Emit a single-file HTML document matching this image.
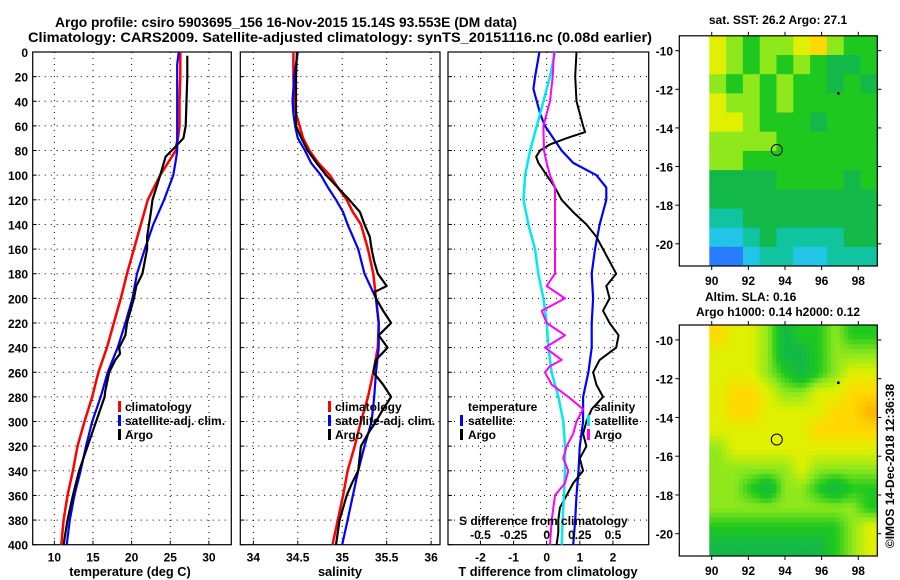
<!DOCTYPE html>
<html><head><meta charset="utf-8"><style>
body{margin:0;background:#fff}
svg{display:block;font-family:"Liberation Sans",sans-serif}
.t{font-weight:bold;font-size:13.8px}
.b{font-weight:bold;font-size:12px}
.a{font-weight:bold;font-size:12.8px}
</style></head><body>
<svg id="c" width="900" height="580" viewBox="0 0 900 580" xmlns="http://www.w3.org/2000/svg">
<text class="t" x="55" y="27" textLength="462" lengthAdjust="spacingAndGlyphs">Argo profile: csiro 5903695_156 16-Nov-2015 15.14S 93.553E (DM data)</text>
<text class="t" x="28" y="42" textLength="624" lengthAdjust="spacingAndGlyphs">Climatology: CARS2009. Satellite-adjusted climatology: synTS_20151116.nc (0.08d earlier)</text>
<g id="g"></g>
</svg>
<script>
const tDepth=[0,10,20,40,60,70,75,80,85,100,120,140,160,180,200,220,240,260,280,300,320,340,360,380,400];
const tClim=[26.3,26.3,26.3,26.2,26.2,26.0,25.8,25.7,25.2,23.7,22.1,21.2,20.3,19.4,18.6,17.7,16.8,15.7,14.9,13.9,13.0,12.4,11.7,11.2,10.9];
const tSat=[26.1,25.9,25.9,25.9,25.9,25.9,25.9,25.9,25.8,25.4,24.2,22.8,21.7,20.7,20.1,19.2,18.2,16.9,16.0,14.9,14.1,13.4,12.6,12.0,11.6];
const argoTDepth=[3,20,40,60,70,78,85,100,120,130,150,160,180,190,200,220,230,240,245,250,260,275,280,300,320,340,360,380,400];
const tArgo=[27.2,27.2,27.1,27.0,26.7,25.5,24.4,23.7,22.7,22.5,22.0,22.0,21.4,20.6,20.3,19.4,19.2,18.4,18.5,17.9,17.1,16.6,16.5,15.4,14.3,13.2,12.4,11.7,11.2];
const sDepth=[0,20,40,50,60,70,80,90,100,110,120,130,140,160,180,200,220,240,260,280,300,320,340,360,380,400];
const sClim=[34.45,34.45,34.46,34.48,34.52,34.56,34.63,34.73,34.86,34.95,35.05,35.12,35.21,35.29,35.35,35.38,35.41,35.40,35.35,35.29,35.21,35.14,35.06,35.01,34.95,34.89];
const sSat=[34.50,34.46,34.44,34.45,34.47,34.50,34.58,34.65,34.76,34.84,34.93,35.01,35.06,35.18,35.25,35.38,35.41,35.41,35.38,35.36,35.33,35.25,35.18,35.12,35.06,35.00];
const argoSDepth=[0,20,40,60,70,80,90,100,110,120,130,140,150,160,170,180,190,195,200,210,220,230,240,250,260,270,280,290,300,310,320,340,350,360,380,400];
const sArgo=[34.49,34.48,34.48,34.48,34.54,34.61,34.71,34.82,34.95,35.08,35.20,35.25,35.31,35.33,35.36,35.40,35.50,35.36,35.38,35.46,35.55,35.41,35.51,35.38,35.35,35.46,35.55,35.46,35.38,35.29,35.21,35.18,35.11,35.05,34.97,34.93];
const dDepth=[0,20,30,40,50,60,80,90,100,110,120,140,160,180,200,220,240,260,280,300,320,340,360,380,400];
const dTSat=[-0.22,-0.35,-0.4,-0.3,-0.2,-0.05,0.45,0.8,1.5,1.8,1.8,1.6,1.46,1.36,1.4,1.36,1.36,1.26,1.1,1.1,1.0,0.96,0.9,0.86,0.8];
const dArgoDepth=[0,20,40,50,60,65,70,75,80,85,90,100,110,120,130,140,150,160,170,180,190,200,210,220,230,240,250,260,270,280,290,300,310,320,330,340,350,360,370,380,390,400];
const dTArgo=[0.9,0.86,0.9,1.0,1.1,1.16,0.6,0.1,-0.2,-0.32,-0.25,0,0.25,0.45,0.8,1.2,1.5,1.7,1.9,2.1,1.8,1.9,1.7,1.9,2.17,2.1,1.6,1.4,1.5,1.7,1.36,1.2,1.1,1.2,1.0,1.1,0.8,0.6,0.4,0.35,0.35,0.3];
const sdDepth=[0,20,40,60,80,100,120,140,160,180,200,220,240,260,280,300,320,340,360,380,400];
const dSSat=[0.063,0.025,-0.025,-0.075,-0.125,-0.163,-0.175,-0.138,-0.088,-0.063,-0.025,0,0.013,0.038,0.088,0.125,0.138,0.138,0.13,0.12,0.113];
const sdArgoDepth=[0,20,40,60,80,90,100,110,120,140,160,180,190,200,210,220,230,240,250,255,260,270,280,290,300,310,320,330,340,350,360,380,400];
const dSArgo=[0.055,0.045,0.025,-0.025,-0.02,0,0.025,0.063,0.063,0.063,0.063,0.063,0,0.138,-0.038,0,0.138,-0.013,0.113,0.025,-0.013,0.038,0.163,0.275,0.225,0.2,0.15,0.125,0.163,0.138,0.063,0.038,0.025];
const depthTicks=[0,20,40,60,80,100,120,140,160,180,200,220,240,260,280,300,320,340,360,380,400];
const tTicks=[10,15,20,25,30], sTicks=[34,34.5,35,35.5,36], dTicks=[-2,-1,0,1,2], dSTickLabels=["-0.5","-0.25","0","0.25","0.5"];
const latTicks=[-10,-12,-14,-16,-18,-20], lonTicks=[90,92,94,96,98];
const sstGrid=[[6,5,4,5,5,6,7,5,4,4],[6,5,4,5,4,5,4,3,3,4],[5,4,5,4,5,4,4,3,4,3],[6,5,5,4,5,4,4,4,4,4],[6,6,5,4,4,4,3,4,4,4],[5,5,5,5,4,4,4,4,4,4],[5,5,4,4,4,4,4,4,4,4],[3,3,3,3,4,4,4,4,3,4],[3,3,3,3,3,3,3,3,3,3],[2,2,3,3,3,3,3,3,3,3],[1,1,2,3,2,2,2,2,3,3],[0,0,1,2,2,1,1,2,2,2]];
const slaGrid=[[7,6,6,5,3,4,4,5,4,4],[6,6,6,5,3,3,4,5,5,5],[6,6,6,5,4,3,4,5,6,6],[6,7,7,6,5,5,6,6,7,7],[6,7,7,6,6,6,6,7,7,8],[6,6,6,6,6,6,7,7,7,7],[5,6,6,6,6,6,6,6,6,6],[5,5,5,5,5,6,5,5,5,5],[5,5,4,3,5,5,4,3,4,4],[5,5,5,5,5,5,5,5,5,4],[4,4,4,4,4,4,4,4,5,6],[3,3,3,3,3,3,3,4,5,6]];
const argoLon=93.553, argoLat=-15.14, islandLon=96.9, islandLat=-12.2;

const NS='http://www.w3.org/2000/svg', G=document.getElementById('g');
function mk(tag,at,parent){const e=document.createElementNS(NS,tag);for(const k in at)e.setAttribute(k,at[k]);(parent||G).appendChild(e);return e;}
const y0=52,y1=544.7;
const yD=d=>y0+d*(y1-y0)/400;
const cols=[[42,124,255],[34,196,232],[16,196,160],[18,184,72],[30,200,30],[142,232,28],[224,240,0],[255,216,0],[255,180,0]];
function colOf(v){v=Math.max(0,Math.min(8,v));const i=Math.min(7,Math.floor(v)),f=v-i;const a=cols[i],b=cols[i+1];
  return 'rgb('+a.map((c,k)=>Math.round(c+(b[k]-c)*f)).join(',')+')';}

function panel(name,x0,x1,lo,hi,ticks,labels){
  const sx=v=>x0+(v-lo)/(hi-lo)*(x1-x0);
  const g=mk('g',{});
  
  
  ticks.forEach(t=>{const l=mk('line',{x1:sx(t),x2:sx(t),y1:y0,y2:y1,stroke:'#000','stroke-dasharray':'1,5','stroke-width':1},g);
    
    
    mk('line',{x1:sx(t),x2:sx(t),y1:y1,y2:y1-4,stroke:'#000'},g);
    if(labels){const tx=mk('text',{x:sx(t),y:y1+17,'text-anchor':'middle',class:'b'},g);tx.textContent=labels(t);
      
      }
  });
  depthTicks.forEach(d=>{if(d>0&&d<400){const l=mk('line',{x1:x0,x2:x1,y1:yD(d),y2:yD(d),stroke:'#000','stroke-dasharray':'1,5'},g);
    
    }
    mk('line',{x1:x0,x2:x0+4,y1:yD(d),y2:yD(d),stroke:'#000'},g);});
  const r=mk('rect',{x:x0,y:y0,width:x1-x0,height:y1-y0,fill:'none',stroke:'#000','stroke-width':1.2},g);
  
  
  return {sx,g};
}
function series(p,name,vals,deps,color,w,scale){
  const pts=vals.map((v,i)=>p.sx(v*(scale||1)).toFixed(1)+','+yD(deps[i]).toFixed(1)).join(' ');
  const l=mk('polyline',{points:pts,fill:'none',stroke:color,'stroke-width':w,'stroke-linejoin':'round'},p.g);
  
  
}
function txt(s,x,y,name,cls,anchor,parent){const t=mk('text',{x,y,class:cls||'b','text-anchor':anchor||'start'},parent);t.textContent=s;
  
  return t;}
function legendBar(x,y,c){const r=mk('rect',{x,y:y-10,width:3,height:11,fill:c});
  
  }

depthTicks.forEach(d=>txt(String(d),28,yD(d)+5,'y-tick-label','b','end'));

const p1=panel('temperature-panel',32.7,231.3,7.2,32.9,tTicks,t=>t);
series(p1,'temperature-climatology-line',tClim,tDepth,'#ff0000',2.5);
series(p1,'temperature-satellite-line',tSat,tDepth,'#0000ff',2.2);
series(p1,'temperature-argo-line',tArgo,argoTDepth,'#000',2.2);
txt('temperature (deg C)',130,576,'x-axis-title','a','middle');
[['climatology','#f00'],['satellite-adj. clim.','#00f'],['Argo','#000']].forEach((e,i)=>{legendBar(118,411+i*14,e[1]);txt(e[0],125,411+i*14,'legend-entry');});

const p2=panel('salinity-panel',240.3,440,33.853,36.1,sTicks,t=>t);
series(p2,'salinity-climatology-line',sClim,sDepth,'#ff0000',2.5);
series(p2,'salinity-satellite-line',sSat,sDepth,'#0000ff',2.2);
series(p2,'salinity-argo-line',sArgo,argoSDepth,'#000',2.2);
txt('salinity',340,576,'x-axis-title','a','middle');
[['climatology','#f00'],['satellite-adj. clim.','#00f'],['Argo','#000']].forEach((e,i)=>{legendBar(328,411+i*14,e[1]);txt(e[0],335,411+i*14,'legend-entry');});

const p3=panel('difference-panel',448,648.7,-2.98,3.08,dTicks,t=>t);
series(p3,'t-diff-satellite-line',dTSat,dDepth,'#0000ff',2.2);
series(p3,'t-diff-argo-line',dTArgo,dArgoDepth,'#000',2);
series(p3,'s-diff-satellite-line',dSSat,sdDepth,'#00e8f0',2.5,4);
series(p3,'s-diff-argo-line',dSArgo,sdArgoDepth,'#ff00ff',2,4);
dTicks.forEach((t,i)=>txt(dSTickLabels[i],p3.sx(t),539,'s-tick-label','b','middle'));
txt('S difference from climatology',459,525,'s-axis-title');
txt('T difference from climatology',548,576,'x-axis-title','a','middle');
txt('temperature',468,411,'legend-title');
legendBar(460,425,'#00f');txt('satellite',468,425,'legend-entry');
legendBar(460,439,'#000');txt('Argo',468,439,'legend-entry');
txt('salinity',594,411,'legend-title');
legendBar(587,425,'#00e8f0');txt('satellite',594,425,'legend-entry');
legendBar(587,439,'#f0f');txt('Argo',594,439,'legend-entry');

function map(name,top,bot,grid,sub){
  const L=679.3,R=877.3,lonL=88.23,lonR=99.04,latT=-9.23,latB=-21.15;
  const sx=v=>L+(v-lonL)/(lonR-lonL)*(R-L), sy=v=>top+(latT-v)/(latT-latB)*(bot-top);
  const g=mk('g',{});
  
  
  const nr=grid.length,nc=grid[0].length,NR=nr*sub,NC=nc*sub,dl=(99.04-89.87)/NC,dt=(latT-latB)/NR;
  const val=(i,j)=>{
    const fi=Math.max(0,Math.min(nr-1,(i+0.5)/sub-0.5)),fj=Math.max(0,Math.min(nc-1,(j+0.5)/sub-0.5));
    const i0=Math.floor(fi),j0=Math.floor(fj),i1=Math.min(nr-1,i0+1),j1=Math.min(nc-1,j0+1),a=fi-i0,b=fj-j0;
    return grid[i0][j0]*(1-a)*(1-b)+grid[i0][j1]*(1-a)*b+grid[i1][j0]*a*(1-b)+grid[i1][j1]*a*b;};
  for(let i=0;i<NR;i++)for(let j=0;j<NC;j++){
    const v=sub>1?val(i,j):grid[i][j];
    const x=sx(89.87+j*dl),y=sy(latT-i*dt);
    const c=mk('rect',{x:x.toFixed(1),y:y.toFixed(1),width:(sx(89.87+(j+1)*dl)-x+0.5).toFixed(1),height:(sy(latT-(i+1)*dt)-y+0.5).toFixed(1),fill:colOf(v)},g);
    
    
  }
  const ci=mk('circle',{cx:sx(argoLon),cy:sy(argoLat),r:5.5,fill:'none',stroke:'#000','stroke-width':1},g);
  
  
  mk('rect',{x:sx(islandLon)-1,y:sy(islandLat)-1,width:2.5,height:2.5,fill:'#000'},g);
  const fr=mk('rect',{x:L,y:top,width:R-L,height:bot-top,fill:'none',stroke:'#000','stroke-width':1.2},g);
  
  
  latTicks.forEach(t=>{mk('line',{x1:L-4,x2:L,y1:sy(t),y2:sy(t),stroke:'#000'},g);mk('line',{x1:R,x2:R+4,y1:sy(t),y2:sy(t),stroke:'#000'},g);
    txt(String(t),673,sy(t)+5,'map-lat-label','b','end',g);});
  lonTicks.forEach(t=>{mk('line',{x1:sx(t),x2:sx(t),y1:bot,y2:bot+4,stroke:'#000'},g);mk('line',{x1:sx(t),x2:sx(t),y1:top,y2:top-4,stroke:'#000'},g);
    txt(String(t),sx(t),bot+19,'map-lon-label','b','middle',g);});
}
txt('sat. SST: 26.2 Argo: 27.1',778,24,'sst-map-title','b','middle');
map('sst-map',35.8,266,sstGrid,1);
txt('Altim. SLA: 0.16',705,301,'sla-map-title');
txt('Argo h1000: 0.14 h2000: 0.12',778,316,'sla-map-subtitle','b','middle');
map('sla-map',325,556,slaGrid,4);
const cp=txt('©IMOS 14-Dec-2018 12:36:38',0,0,'copyright-text','', 'middle');
cp.setAttribute('transform','translate(894,466) rotate(-90)');
cp.setAttribute('font-size','12');
</script>
</body></html>
